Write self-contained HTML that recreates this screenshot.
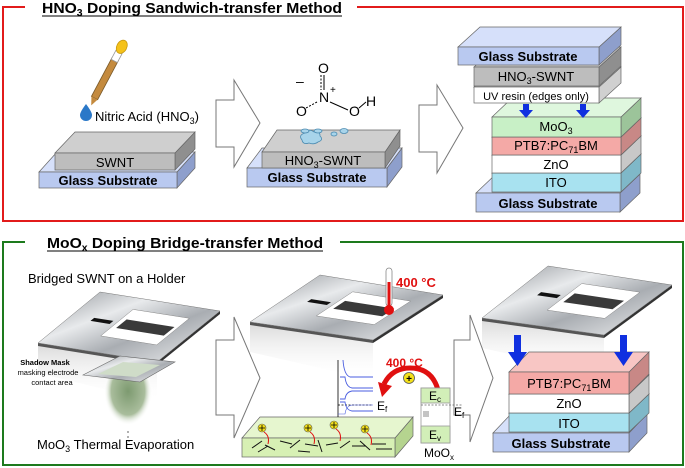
<!DOCTYPE html>
<html><head><meta charset="utf-8"><style>
html,body{margin:0;padding:0;background:#fff}
svg{display:block}
text{font-family:"Liberation Sans",sans-serif}
</style></head><body>
<svg id="s" width="685" height="468" viewBox="0 0 685 468" xmlns="http://www.w3.org/2000/svg">
<defs>
<linearGradient id="silver" x1="0" y1="0" x2="1" y2="1">
<stop offset="0" stop-color="#8d9196"/><stop offset="0.35" stop-color="#e8eaec"/><stop offset="0.6" stop-color="#a9adb2"/><stop offset="1" stop-color="#f2f3f4"/></linearGradient>
<radialGradient id="smoke" cx="0.5" cy="0.4" r="0.5"><stop offset="0" stop-color="#7d9a70"/><stop offset="0.7" stop-color="#a9bd9c"/><stop offset="1" stop-color="#ffffff" stop-opacity="0"/></radialGradient>
<linearGradient id="shade" x1="0" y1="0" x2="0" y2="1"><stop offset="0" stop-color="#d8d8d8"/><stop offset="1" stop-color="#fff" stop-opacity="0"/></linearGradient>
</defs>
<polyline points="25,7 3,7 3,221 683,221 683,7 357,7" fill="none" stroke="#e21b1b" stroke-width="2"/>
<polyline points="25,242 3,242 3,465 683,465 683,242 340,242" fill="none" stroke="#1d7a1d" stroke-width="2"/>
<text x="42" y="13" font-size="15" font-weight="bold" textLength="300" lengthAdjust="spacingAndGlyphs">HNO<tspan font-size="10" dy="3">3</tspan><tspan dy="-3"> Doping Sandwich-transfer Method</tspan></text>
<line x1="42" y1="16" x2="342" y2="16" stroke="#000" stroke-width="1"/>
<text x="47" y="248" font-size="15" font-weight="bold" textLength="276" lengthAdjust="spacingAndGlyphs">MoO<tspan font-size="10" dy="3">x</tspan><tspan dy="-3"> Doping Bridge-transfer Method</tspan></text>
<line x1="47" y1="251" x2="323" y2="251" stroke="#000" stroke-width="1"/>
<g id="shapes"></g>
<g fill="#fff" stroke="#777" stroke-width="1">
<polygon points="216,100 234,100 234,80 260,123 234,167 234,147 216,147"/>
<polygon points="419,105 437,105 437,85 463,128 437,173 437,152 419,152"/>
<polygon points="216,340 234,340 234,317 260,378 234,438 234,415 216,415"/>
<polygon points="454,340 470,340 470,315 493,378 470,442 470,415 454,415"/>
</g>
<g transform="rotate(28 110 70)">
<rect x="106" y="58" width="7" height="44" fill="#c48a3e" stroke="#7a5a2a" stroke-width="0.8"/>
<rect x="106" y="50" width="7" height="10" fill="#fff" stroke="#999" stroke-width="0.8"/>
<ellipse cx="109.5" cy="44" rx="5" ry="7" fill="#f5c21a" stroke="#c99a10" stroke-width="0.8"/>
<polygon points="106,102 113,102 110,110" fill="#c48a3e"/>
</g>
<path d="M86,104 Q80,112 80,115 A6,6 0 0 0 92,115 Q92,112 86,104Z" fill="#2a78c8"/>
<text x="95" y="121" font-size="13">Nitric Acid (HNO<tspan font-size="9" dy="3">3</tspan><tspan dy="-3">)</tspan></text>
<g font-size="14" fill="#000">
<text x="318" y="73">O</text><text x="319" y="102">N</text><text x="296" y="116">O</text><text x="349" y="116">O</text><text x="366" y="106">H</text>
<text x="296" y="86">–</text><text x="330" y="93" font-size="10">+</text>
</g>
<g stroke="#000" stroke-width="1"><line x1="321" y1="75" x2="321" y2="90" stroke-dasharray="2,1.5"/><line x1="324" y1="75" x2="324" y2="90"/>
<line x1="317" y1="102" x2="306" y2="108" stroke-dasharray="2,1.5"/><line x1="330" y1="102" x2="348" y2="110"/><line x1="359" y1="108" x2="366" y2="102"/></g>
<g fill="#a8d4ea" stroke="#4a8ab0" stroke-width="0.8">
<path d="M302,140 q-4,-5 3,-7 q4,-5 9,-1 q6,-2 6,4 q4,4 -2,6 q-4,3 -9,1 q-6,2 -7,-3z"/>
<ellipse cx="305" cy="131" rx="4" ry="2"/><ellipse cx="318" cy="131" rx="4" ry="2"/><ellipse cx="334" cy="134" rx="3" ry="2"/><ellipse cx="344" cy="131" rx="4" ry="2.5"/>
</g>
<g font-size="7.5" text-anchor="middle"><text x="45" y="365" font-weight="bold">Shadow Mask</text><text x="48" y="375">masking electrode</text><text x="52" y="385">contact area</text></g>
<text x="28" y="283" font-size="13">Bridged SWNT on a Holder</text>
<text x="37" y="449" font-size="13">MoO<tspan font-size="9" dy="3">3</tspan><tspan dy="-3"> Thermal Evaporation</tspan></text>
<rect x="386" y="268" width="6" height="38" rx="3" fill="#fff" stroke="#888" stroke-width="0.8"/>
<rect x="387.5" y="282" width="3" height="26" fill="#e01010"/>
<circle cx="389" cy="310" r="5" fill="#e01010"/>
<text x="396" y="287" font-size="13" font-weight="bold" fill="#e01010">400 °C</text>
<g stroke="#000" stroke-width="0.8" fill="none"><line x1="338" y1="360" x2="338" y2="417"/><line x1="338" y1="405" x2="372" y2="405" stroke-dasharray="2,1.5"/></g>
<g stroke="#4a5ee0" stroke-width="0.9" fill="none">
<path d="M343,360 Q344,375 350,377 L373,377"/><path d="M340,377 L345,377 Q346,387 352,388 L373,388"/>
<path d="M340,399 L345,399 Q346,392 352,391 L373,391"/><path d="M340,402 L345,402 Q346,410 352,411 L373,411"/>
<path d="M338,414 L345,414 Q346,406 352,405 L373,405" stroke-width="0.6"/>
</g>
<text x="377" y="410" font-size="12">E<tspan font-size="8" dy="2">f</tspan></text>
<text x="386" y="367" font-size="12" font-weight="bold" fill="#e01010">400 °C</text>
<path d="M438,390 Q432,368 410,368 Q392,368 384,384" fill="none" stroke="#e01010" stroke-width="5"/>
<polygon points="378,382 392,386 382,397" fill="#e01010"/>
<circle cx="409" cy="378" r="5.5" fill="#f3e01a" stroke="#555" stroke-width="0.8"/><text x="409" y="382" font-size="10" text-anchor="middle" font-weight="bold">+</text>
<rect x="421" y="388" width="29" height="55" fill="#fff" stroke="#999" stroke-width="0.8"/>
<rect x="421" y="388" width="29" height="15" fill="#d2efb8" stroke="#999" stroke-width="0.8"/>
<rect x="421" y="426" width="29" height="17" fill="#d2efb8" stroke="#999" stroke-width="0.8"/>
<line x1="421" y1="405" x2="463" y2="405" stroke="#666" stroke-width="0.8" stroke-dasharray="2,1.5"/>
<g stroke="#888"><line x1="423" y1="412" x2="429" y2="412"/><line x1="423" y1="414" x2="429" y2="414"/><line x1="423" y1="416" x2="429" y2="416"/></g>
<text x="429" y="400" font-size="12">E<tspan font-size="8" dy="2">c</tspan></text>
<text x="429" y="439" font-size="12">E<tspan font-size="8" dy="2">v</tspan></text>
<text x="454" y="416" font-size="12">E<tspan font-size="8" dy="2">f</tspan></text>
<text x="424" y="457" font-size="12">MoO<tspan font-size="8" dy="3">x</tspan></text>
<g font-size="13" text-anchor="middle">
<text x="115" y="167">SWNT</text>
<text x="323" y="165">HNO<tspan font-size="9" dy="3">3</tspan><tspan dy="-3">-SWNT</tspan></text>
<text x="536" y="81">HNO<tspan font-size="9" dy="3">3</tspan><tspan dy="-3">-SWNT</tspan></text>
<text x="536" y="100" font-size="11">UV resin (edges only)</text>
<text x="556" y="131">MoO<tspan font-size="9" dy="3">3</tspan></text>
<text x="556" y="150">PTB7:PC<tspan font-size="9" dy="3">71</tspan><tspan dy="-3">BM</tspan></text>
<text x="556" y="169">ZnO</text>
<text x="556" y="187">ITO</text>
<text x="569" y="388">PTB7:PC<tspan font-size="9" dy="3">71</tspan><tspan dy="-3">BM</tspan></text>
<text x="569" y="408">ZnO</text>
<text x="569" y="428">ITO</text>
</g>
<g font-size="13" font-weight="bold" text-anchor="middle">
<text x="108" y="185">Glass Substrate</text>
<text x="317" y="182">Glass Substrate</text>
<text x="528" y="61">Glass Substrate</text>
<text x="548" y="208">Glass Substrate</text>
<text x="561" y="448">Glass Substrate</text>
</g>
<g fill="#1030e0">
<polygon points="523,104 529,104 529,110 533,110 526,118 519,110 523,110"/>
<polygon points="580,104 586,104 586,110 590,110 583,118 576,110 580,110"/>
<polygon points="514,335 521,335 521,352 527,352 517.5,366 508,352 514,352"/>
<polygon points="620,335 627,335 627,352 633,352 623.5,366 614,352 620,352"/>
</g>
</svg>
<script>
var NS="http://www.w3.org/2000/svg";
function el(p,t,a){var e=document.createElementNS(NS,t);for(var k in a)e.setAttribute(k,a[k]);document.getElementById(p).appendChild(e);return e;}
function pts(a){return a.map(function(q){return q[0].toFixed(1)+","+q[1].toFixed(1)}).join(" ");}
function slab(g,x,y,w,h,dx,dy,f,t,s){
 el(g,"polygon",{points:pts([[x+w,y],[x+w+dx,y+dy],[x+w+dx,y+dy+h],[x+w,y+h]]),fill:s,stroke:"#666","stroke-width":0.7});
 el(g,"polygon",{points:pts([[x,y],[x+dx,y+dy],[x+w+dx,y+dy],[x+w,y]]),fill:t,stroke:"#666","stroke-width":0.7});
 el(g,"rect",{x:x,y:y,width:w,height:h,fill:f,stroke:"#666","stroke-width":0.7});
}
var G=["#b9c9f0","#d6e0fa","#8e9fcc"],S=["#bdbdbd","#cfcfcf","#8f8f8f"];
function sl(g,x,y,w,h,dx,dy,c){slab(g,x,y,w,h,dx,dy,c[0],c[1],c[2]);}
var g="shapes";
sl(g,39,172,138,16,18,-20,G); sl(g,55,153,120,17,20,-21,S);
sl(g,247,168,140,19,15,-20,G); sl(g,262,152,123,16,15,-22,S);
sl(g,476,193,144,19,20,-19,G);
sl(g,492,173,129,19,20,-19,["#a8e2f0","#c8eef6","#7fb8c8"]);
sl(g,492,155,129,18,20,-19,["#ffffff","#f2f2f2","#c8c8c8"]);
sl(g,492,137,129,18,20,-19,["#f4a9a6","#f8c6c4","#c88886"]);
sl(g,492,117,129,20,20,-19,["#c8f0c6","#dff7de","#9cc49a"]);
sl(g,474,87,125,16,22,-20,["#ffffff","#eeeeee","#d0d0d0"]);
sl(g,474,67,125,19,22,-20,S);
sl(g,458,47,141,18,22,-20,G);
function bil(A,B,C,D,u,v){var p=[A[0]+(D[0]-A[0])*u,A[1]+(D[1]-A[1])*u],q=[B[0]+(C[0]-B[0])*u,B[1]+(C[1]-B[1])*u];return [p[0]+(q[0]-p[0])*v,p[1]+(q[1]-p[1])*v];}
function quad(A,B,C,D,u0,u1,v0,v1){return [bil(A,B,C,D,u0,v0),bil(A,B,C,D,u0,v1),bil(A,B,C,D,u1,v1),bil(A,B,C,D,u1,v0)];}
function holder(A,B,C,D){
 el(g,"polygon",{points:pts([A,D,[D[0],D[1]+40],[A[0],A[1]+30]]),fill:"url(#shade)"});
 el(g,"polygon",{points:pts([A,D,[D[0],D[1]+3],[A[0],A[1]+3]]),fill:"#555"});
 el(g,"polygon",{points:pts([D,C,[C[0],C[1]+3],[D[0],D[1]+3]]),fill:"#333"});
 el(g,"polygon",{points:pts([A,B,C,D]),fill:"url(#silver)",stroke:"#777","stroke-width":0.5});
 el(g,"polygon",{points:pts(quad(A,B,C,D,0.38,0.85,0.28,0.8)),fill:"#fff",stroke:"#888","stroke-width":0.5});
 el(g,"polygon",{points:pts(quad(A,B,C,D,0.42,0.82,0.45,0.62)),fill:"#3a3a3a"});
 el(g,"polygon",{points:pts(quad(A,B,C,D,0.18,0.34,0.5,0.56)),fill:"#111"});
}
holder([38,343],[100,292],[220,311],[157,362]);
holder([250,322],[320,275],[443,295],[373,340]);
holder([482,318],[548,266],[672,285],[604,335]);
el(g,"ellipse",{cx:128,cy:398,rx:24,ry:34,fill:"url(#smoke)"});
el(g,"polygon",{points:pts([[83,375],[120,356],[175,362],[140,382]]),fill:"url(#silver)",stroke:"#666","stroke-width":0.6});
el(g,"polygon",{points:pts([[98,374],[123,362],[160,365],[136,377]]),fill:"#cfdcc8"});
[[128,432],[128,437],[129,441]].forEach(function(c){el(g,"circle",{cx:c[0],cy:c[1],r:1,fill:"#999"});});
slab(g,242,438,153,19,18,-21,"#d7f0b4","#e6f6cf","#b5d48f");
[[262,428],[308,428],[334,425],[365,429]].forEach(function(c){
 el(g,"circle",{cx:c[0],cy:c[1],r:4,fill:"#f3e01a",stroke:"#555","stroke-width":0.6});
 el(g,"path",{d:"M"+(c[0]-3)+","+c[1]+"h6M"+c[0]+","+(c[1]-3)+"v6",stroke:"#000","stroke-width":0.8});
 el(g,"path",{d:"M"+(c[0]+2)+","+(c[1]+4)+" q6,4 4,12",stroke:"#e01010","stroke-width":1,fill:"none"});
});
var st=[[252,448,262,441],[265,445,275,450],[280,441,292,444],[290,448,300,440],[305,444,318,446],[318,440,322,452],[326,445,338,443],[340,448,350,441],[352,446,366,446],[360,441,370,450],[372,444,386,444],[376,449,392,449],[258,452,268,446],[298,451,310,452]];
st.forEach(function(s){el(g,"line",{x1:s[0],y1:s[1],x2:s[2],y2:s[3],stroke:"#111","stroke-width":1});});
sl(g,493,433,136,19,18,-19,G);
sl(g,509,413,120,19,20,-19,["#a8e2f0","#c8eef6","#7fb8c8"]);
sl(g,509,394,120,19,20,-19,["#ffffff","#f2f2f2","#c8c8c8"]);
sl(g,509,372,120,22,20,-20,["#f4a9a6","#f8c6c4","#c88886"]);
</script>
</body></html>
